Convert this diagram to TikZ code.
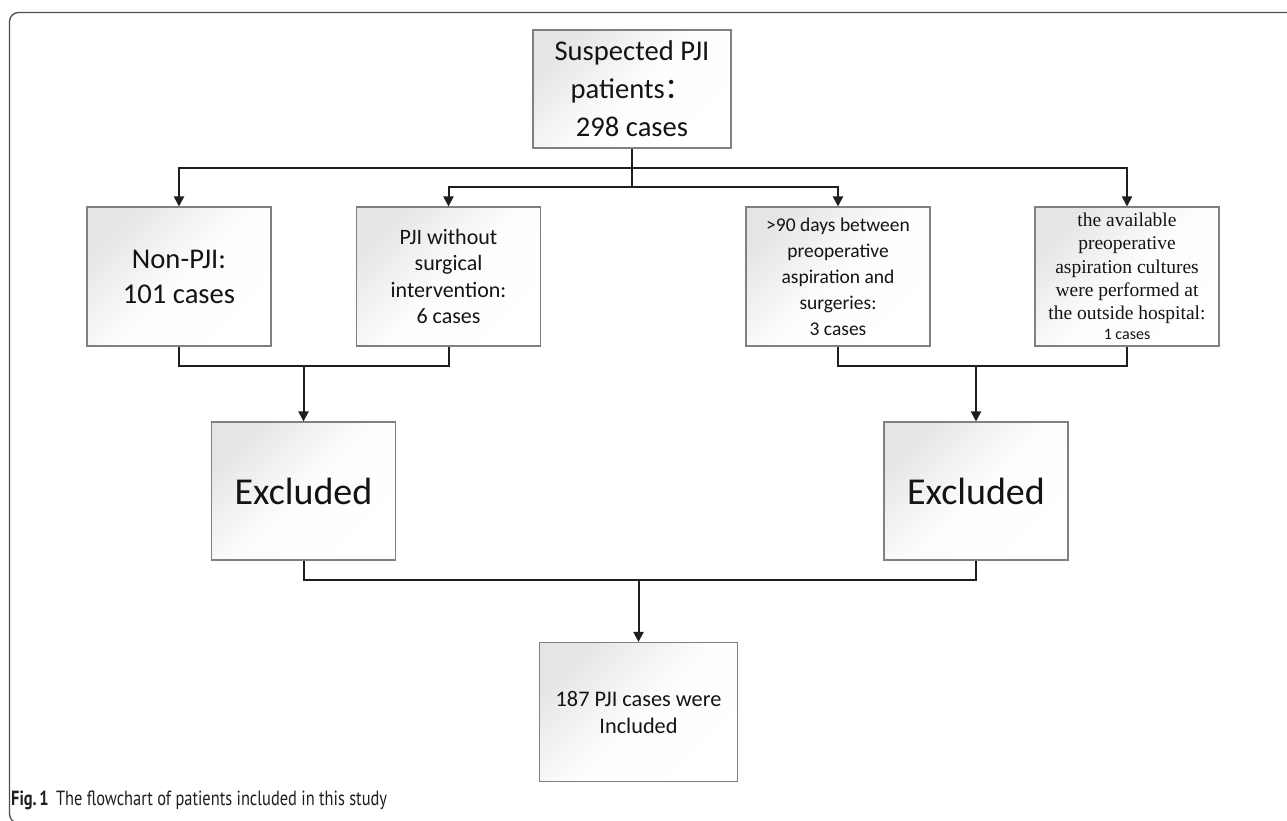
\documentclass[tikz,border=0pt]{standalone}
\usepackage{fontspec}
\setmainfont{Carlito}
\newfontfamily\tnr{Liberation Serif}
\newfontfamily\cjk{Noto Sans CJK SC}
\newfontfamily\capfont{PT Sans}
\usetikzlibrary{arrows.meta,calc}
\begin{document}
\begin{tikzpicture}[x=1pt,y=-1pt,
  box/.style={draw=black!50, line width=1.1pt, top color=black!10, bottom color=white, middle color=black!1, shading angle=45,
    align=center, inner sep=0pt, text=black!92},
  conn/.style={line width=2pt, draw=black!88},
  arr/.style={conn, -{Triangle[width=10pt,length=10pt]}}]
\useasboundingbox (0,0) rectangle (1287,820);
\fill[white] (0,0) rectangle (1287,820);
\begin{scope}
\clip (0,0) rectangle (1287,820);
\draw[line width=1.3pt, black!70, rounded corners=9pt] (1300,12.5) -- (9.5,12.5) -- (9.5,823) -- (40,823);
\end{scope}

% nodes
\node[box, minimum width=198pt, minimum height=118pt, font=\fontsize{28.6}{38}\selectfont] (top) at (632,89)
  {Suspected PJI\\ patients{\cjk ：}\\ 298 cases};
\node[box, minimum width=184pt, minimum height=139pt, font=\fontsize{28.6}{35}\selectfont] (np) at (179,276.5)
  {Non-PJI:\\101 cases};
\node[box, minimum width=184pt, minimum height=139pt, font=\fontsize{22}{26.5}\selectfont] (pw) at (448.5,276.5)
  {PJI without\\surgical\\intervention:\\6 cases};
\node[box, minimum width=184pt, minimum height=139pt, font=\fontsize{19.5}{26}\selectfont] (d90) at (838,276.5)
  {>90 days between\\preoperative\\aspiration and\\surgeries:\\3 cases};
\node[box, minimum width=184pt, minimum height=139pt, font=\tnr\fontsize{19.5}{23.3}\selectfont] (av) at (1127,276.5)
  {the available\\preoperative\\aspiration cultures\\were performed at\\the outside hospital:\\[-3pt]{\rmfamily\fontsize{16}{18}\selectfont 1 cases}};
\node[box, minimum width=184pt, minimum height=138pt, font=\fontsize{38}{44}\selectfont] (ex1) at (303.5,491)
  {Excluded};
\node[box, minimum width=184pt, minimum height=138pt, font=\fontsize{38}{44}\selectfont] (ex2) at (976,491)
  {Excluded};
\node[box, minimum width=198pt, minimum height=139pt, font=\fontsize{22.3}{27}\selectfont] (inc) at (638.5,712)
  {187 PJI cases were\\Included};

\node[anchor=west, inner sep=0pt, text=black!88] (cap) at (11,800)
  {\scalebox{0.8}[1]{\capfont\fontsize{20.5}{23}\selectfont\textbf{Fig.\,1}\hspace{9pt}The flowchart of patients included in this study}};

% connectors
\coordinate (b1) at (top.south |- 0,168);
\coordinate (b2) at (top.south |- 0,187);
\draw[conn] (top.south) -- (b2);
\draw[arr] (b1) -| (np.north);
\draw[arr] (b1) -| (av.north);
\draw[arr] (b2) -| (pw.north);
\draw[arr] (b2) -| (d90.north);

\coordinate (m1) at (ex1.north |- 0,366);
\draw[conn] (np.south) |- (m1) -| (pw.south);
\draw[arr] (m1) -- (ex1.north);

\coordinate (m2) at (ex2.north |- 0,366);
\draw[conn] (d90.south) |- (m2) -| (av.south);
\draw[arr] (m2) -- (ex2.north);

\coordinate (m3) at (inc.north |- 0,580);
\draw[conn] (ex1.south) |- (m3) -| (ex2.south);
\draw[arr] (m3) -- (inc.north);
\end{tikzpicture}
\end{document}
